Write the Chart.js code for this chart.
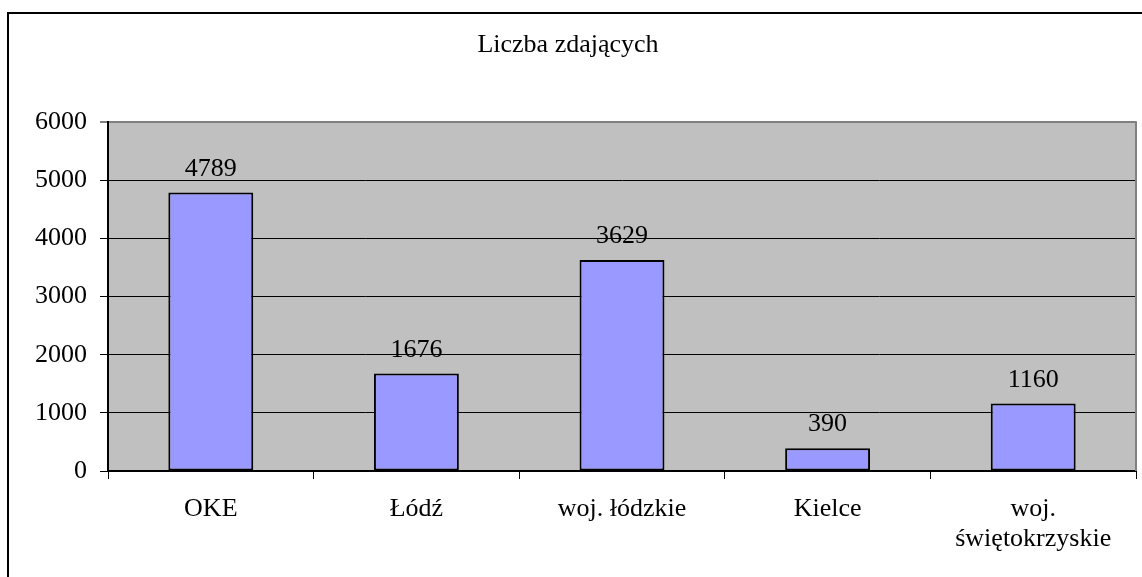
<!DOCTYPE html>
<html>
<head>
<meta charset="utf-8">
<script src="https://cdn.jsdelivr.net/npm/chart.js@4.4.1/dist/chart.umd.min.js"></script>
<style>
html,body{margin:0;padding:0;background:#fff;}
#wrap{width:1142px;height:577px;position:relative;}
</style>
</head>
<body>
<div id="wrap"><canvas id="c" width="1142" height="577"></canvas></div>
<script>
const titleText = 'Liczba zdających';
const categories = ['OKE', 'Łódź', 'woj. łódzkie', 'Kielce', ['woj.', 'świętokrzyskie']];
const values = [4789, 1676, 3629, 390, 1160];
const yTicks = [0, 1000, 2000, 3000, 4000, 5000, 6000];

const FONT = "'Liberation Serif', 'Times New Roman', serif";

const bgPlugin = {
  id: 'bg',
  beforeDraw(chart) {
    const {ctx, chartArea: a} = chart;
    ctx.save();
    ctx.fillStyle = '#C0C0C0';
    ctx.fillRect(a.left, a.top, a.right - a.left, a.bottom - a.top);
    ctx.restore();
  },
  afterDraw(chart) {
    const {ctx, chartArea: a} = chart;
    ctx.save();
    ctx.fillStyle = '#808080';
    ctx.fillRect(a.right - 1, a.top - 1, 2, a.bottom - a.top + 1);
    ctx.fillStyle = '#000';
    ctx.fillRect(7, 12, 2, chart.height - 12);
    ctx.fillRect(7, 12, chart.width - 7, 2);
    ctx.restore();
  }
};

const labelPlugin = {
  id: 'valueLabels',
  afterDatasetsDraw(chart) {
    const {ctx} = chart;
    const meta = chart.getDatasetMeta(0);
    ctx.save();
    ctx.font = "26px " + FONT;
    ctx.fillStyle = '#000';
    ctx.textAlign = 'center';
    ctx.textBaseline = 'alphabetic';
    meta.data.forEach((bar, i) => {
      ctx.fillText(String(values[i]), bar.x, bar.y - 17);
    });
    ctx.restore();
  }
};

new Chart(document.getElementById('c'), {
  type: 'bar',
  data: {
    labels: categories,
    datasets: [{
      data: values,
      backgroundColor: '#9999FF',
      borderColor: '#000000',
      borderWidth: 2,
      borderSkipped: false,
      categoryPercentage: 1,
      barPercentage: 0.413
    }]
  },
  options: {
    responsive: false,
    animation: false,
    devicePixelRatio: 1,
    layout: { padding: { left: 0, right: 6, top: 0, bottom: 0 } },
    plugins: {
      legend: { display: false },
      tooltip: { enabled: false },
      title: {
        display: true,
        text: titleText,
        color: '#000',
        font: { family: FONT, size: 26, weight: 'normal', lineHeight: 1.2 },
        padding: { top: 30, bottom: 61 }
      }
    },
    scales: {
      x: {
        grid: {
          offset: true,
          drawOnChartArea: false,
          drawTicks: true,
          tickLength: 8,
          color: '#000',
          lineWidth: 1
        },
        border: { display: true, color: '#000', width: 2 },
        ticks: {
          color: '#000',
          font: { family: FONT, size: 26, lineHeight: 1.15 },
          padding: 15,
          maxRotation: 0,
          autoSkip: false
        },
        afterFit(scale) { scale.height = 106; }
      },
      y: {
        min: 0,
        max: 6000,
        afterBuildTicks(scale) { scale.ticks = yTicks.map(v => ({ value: v })); },
        grid: {
          drawTicks: true,
          tickLength: 8,
          color: (c) => (c.tick && c.tick.value === 6000) ? '#808080' : '#000',
          lineWidth: (c) => (c.tick && c.tick.value === 6000) ? 2 : 1,
          tickColor: '#000',
          tickWidth: 1
        },
        border: { display: true, color: '#000', width: 2 },
        ticks: {
          color: '#000',
          font: { family: FONT, size: 26 },
          padding: 13,
          callback: (v) => String(v)
        },
        afterFit(scale) { scale.width = 108; }
      }
    }
  },
  plugins: [bgPlugin, labelPlugin]
});
</script>
</body>
</html>
